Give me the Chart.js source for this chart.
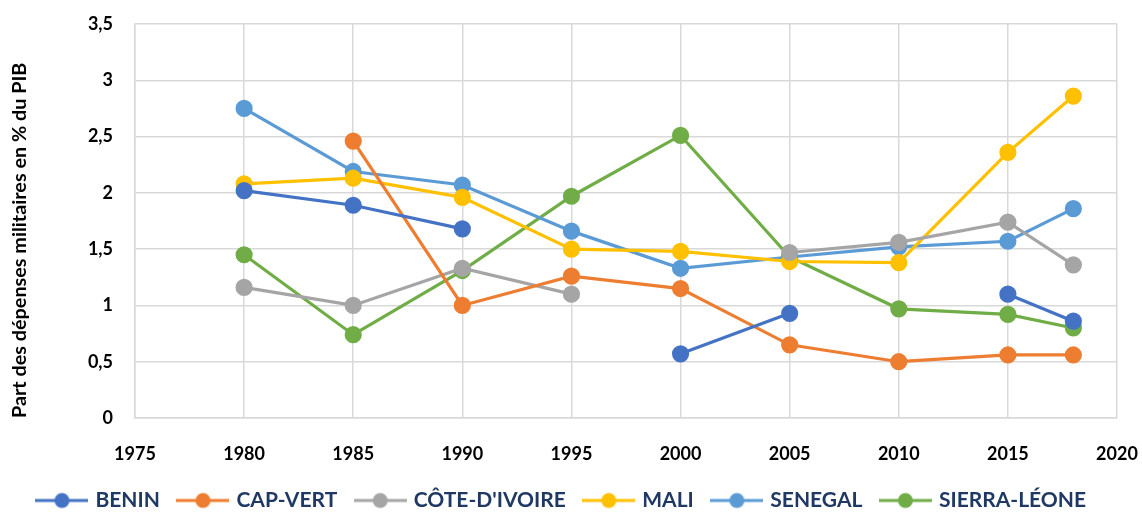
<!DOCTYPE html>
<html>
<head>
<meta charset="utf-8">
<script src="https://cdn.jsdelivr.net/npm/chart.js@4/dist/chart.umd.min.js"></script>
<style>
  html, body { margin: 0; padding: 0; background: #fff; }
  #wrap { width: 1142px; height: 514px; }
</style>
</head>
<body>
<div id="wrap"><canvas id="grafico"></canvas></div>
<script>
// Années (axe X)
const annees = [1980, 1985, 1990, 1995, 2000, 2005, 2010, 2015, 2018];

// Part des dépenses militaires en % du PIB, par pays
const benin = [2.02, 1.89, 1.68, null, 0.57, 0.93, null, 1.10, 0.86];
const capVert = [null, 2.46, 1.00, 1.26, 1.15, 0.65, 0.50, 0.56, 0.56];
const coteIvoire = [1.16, 1.00, 1.33, 1.10, null, 1.47, 1.56, 1.74, 1.36];
const mali = [2.08, 2.13, 1.96, 1.50, 1.48, 1.39, 1.38, 2.36, 2.86];
const senegal = [2.75, 2.19, 2.07, 1.66, 1.33, 1.43, 1.52, 1.57, 1.86];
const sierraLeone = [1.45, 0.74, 1.31, 1.97, 2.51, 1.43, 0.97, 0.92, 0.80];

const pays = ["BENIN", "CAP-VERT", "CÔTE-D'IVOIRE", "MALI", "SENEGAL", "SIERRA-LÉONE"];
const series = [benin, capVert, coteIvoire, mali, senegal, sierraLeone];
const couleurs = ["#4472C4", "#ED7D31", "#A5A5A5", "#FFC000", "#5B9BD5", "#70AD47"];

const police = "Lato, 'Open Sans', sans-serif";

// Symbole de légende : trait + cercle
function symbole(couleur) {
  const c = document.createElement("canvas");
  c.width = 53;
  c.height = 18;
  const g = c.getContext("2d");
  g.strokeStyle = couleur;
  g.lineWidth = 3;
  g.beginPath();
  g.moveTo(0, 9);
  g.lineTo(53, 9);
  g.stroke();
  g.fillStyle = couleur;
  g.beginPath();
  g.arc(26.5, 9, 7.5, 0, Math.PI * 2);
  g.fill();
  return c;
}

// Hauteur fixe de la légende (le padding sert surtout à l'espacement horizontal)
const legendeCompacte = {
  id: "legendeCompacte",
  afterInit(chart) {
    const lg = chart.legend;
    if (!lg) return;
    const fitOrig = lg.fit.bind(lg);
    lg.fit = function () {
      fitOrig();
      this.height = 44;
    };
  },
};

const ctx = document.getElementById("grafico").getContext("2d");

new Chart(ctx, {
  type: "line",
  data: {
    datasets: pays.map((nom, i) => ({
      label: nom,
      data: annees.map((a, j) => ({ x: a, y: series[i][j] })),
      borderColor: couleurs[i],
      backgroundColor: couleurs[i],
      pointBackgroundColor: couleurs[i],
      pointBorderColor: couleurs[i],
      borderWidth: 3.2,
      pointRadius: 7,
      pointHoverRadius: 7,
      spanGaps: false,
      tension: 0,
    })),
  },
  options: {
    responsive: true,
    maintainAspectRatio: false,
    animation: false,
    layout: {
      padding: { left: 8, right: 25, top: 24, bottom: 0 },
    },
    plugins: {
      tooltip: { enabled: false },
      legend: {
        position: "bottom",
        labels: {
          usePointStyle: true,
          pointStyleWidth: 46,
          padding: 20,
          color: "#1F3864",
          font: { family: police, size: 21, weight: "bold" },
          generateLabels: function (chart) {
            return chart.data.datasets.map((ds, i) => ({
              text: ds.label,
              fillStyle: ds.borderColor,
              strokeStyle: ds.borderColor,
              fontColor: "#1F3864",
              lineWidth: 0,
              pointStyle: symbole(ds.borderColor),
              hidden: false,
              datasetIndex: i,
            }));
          },
        },
      },
    },
    scales: {
      x: {
        type: "linear",
        min: 1975,
        max: 2020,
        ticks: {
          stepSize: 5,
          color: "#000",
          padding: 25,
          font: { family: police, size: 18, weight: "bold" },
          callback: function (value) {
            return String(value);
          },
        },
        grid: { color: "#D9D9D9", lineWidth: 1.5, drawTicks: false },
        border: { color: "#D9D9D9", width: 1.5 },
        afterFit: function (scale) {
          scale.height = 52;
          scale.paddingLeft = 0;
          scale.paddingRight = 0;
        },
      },
      y: {
        min: 0,
        max: 3.5,
        ticks: {
          stepSize: 0.5,
          color: "#000",
          padding: 22,
          font: { family: police, size: 18, weight: "bold" },
          callback: function (value) {
            return value.toLocaleString("fr-FR");
          },
        },
        title: {
          display: true,
          align: "start",
          text: "Part des dépenses militaires en % du PIB",
          color: "#000",
          font: { family: police, size: 19.8, weight: "bold" },
          padding: { top: 0, bottom: 0 },
        },
        grid: { color: "#D9D9D9", lineWidth: 1.5, drawTicks: false },
        border: { color: "#D9D9D9", width: 1.5 },
        afterFit: function (scale) {
          scale.width = 127;
          scale.paddingTop = 0;
          scale.paddingBottom = 0;
        },
      },
    },
  },
  plugins: [legendeCompacte],
});
</script>
</body>
</html>
